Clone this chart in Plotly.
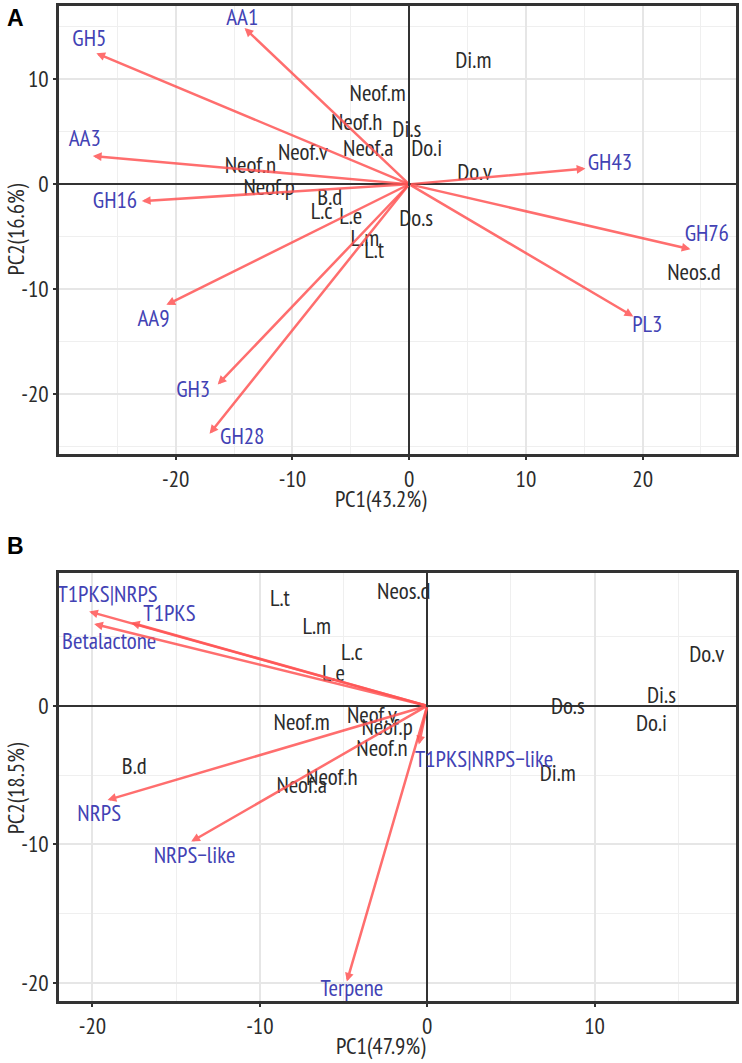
import plotly.graph_objects as go

# ---------------- Panel A data ----------------
vec_names_A = ["AA1", "GH5", "AA3", "GH16", "AA9", "GH3", "GH28", "GH43", "GH76", "PL3"]
vec_x_A = [-14.1, -26.8, -27.1, -22.9, -20.8, -16.4, -17.1, 15.1, 24.1, 19.2]
vec_y_A = [14.9, 12.5, 2.7, -1.6, -11.5, -19.1, -23.8, 1.5, -6.2, -12.6]
vec_lab_x_A = [-14.3, -27.4, -27.8, -25.2, -21.9, -18.5, -14.3, 17.2, 25.5, 20.4]
vec_lab_y_A = [15.7, 13.7, 4.2, -1.7, -13.0, -19.7, -24.2, 1.9, -4.9, -13.5]

smp_names_A = ["Di.m", "Neof.m", "Neof.h", "Di.s", "Neof.a", "Do.i", "Neof.v", "Neof.n",
               "Neof.p", "Do.v", "B.d", "L.c", "L.e", "L.m", "L.t", "Do.s", "Neos.d"]
smp_x_A = [5.5, -2.7, -4.5, -0.2, -3.5, 1.5, -9.1, -13.6, -12.0, 5.6, -6.8, -7.5, -5.0, -3.8, -3.0, 0.6, 24.4]
smp_y_A = [11.6, 8.5, 5.7, 5.1, 3.2, 3.2, 2.9, 1.6, -0.5, 1.0, -1.4, -2.8, -3.2, -5.3, -6.5, -3.4, -8.6]

xticks_A = [-20, -10, 0, 10, 20]
yticks_A = [-20, -10, 0, 10]

# ---------------- Panel B data ----------------
vec_names_B = ["T1PKS|NRPS", "T1PKS", "Betalactone", "NRPS", "NRPS\u2212like", "Terpene", "T1PKS|NRPS\u2212like"]
vec_x_B = [-20.2, -17.7, -19.9, -19.1, -14.1, -4.8, -0.5]
vec_y_B = [6.8, 6.0, 5.9, -6.8, -9.8, -19.9, -2.8]
vec_lab_x_B = [-19.1, -15.4, -19.0, -19.6, -13.9, -4.5, 3.4]
vec_lab_y_B = [7.9, 6.5, 4.5, -7.9, -10.9, -20.5, -4.0]

smp_names_B = ["L.t", "L.m", "L.c", "L.e", "Neos.d", "Do.v", "Di.s", "Do.s", "Do.i", "Di.m",
               "Neof.m", "Neof.v", "Neof.p", "Neof.n", "Neof.h", "Neof.a", "B.d"]
smp_x_B = [-8.8, -6.6, -4.5, -5.6, -1.4, 16.7, 14.0, 8.4, 13.4, 7.8, -7.5, -3.3, -2.4, -2.7, -5.7, -7.5, -17.5]
smp_y_B = [7.6, 5.6, 3.7, 2.2, 8.1, 3.6, 0.65, -0.2, -1.4, -5.0, -1.3, -0.8, -1.7, -3.2, -5.3, -5.9, -4.5]

xticks_B = [-20, -10, 0, 10]
yticks_B = [-20, -10, 0]

# ---------------- styles ----------------
FONT = "PT Sans Narrow, Fira Sans Condensed, Asap Condensed, DejaVu Sans Condensed, sans-serif"
FS = 23
BLUE = "#4242B4"
DARK = "#2b2b2b"
ARROW = "rgba(255,85,85,0.85)"

fig = go.Figure()

def add_panel(xa, ya, vx, vy, lx, ly, vnames, sx, sy, snames):
    fig.add_trace(go.Scatter(x=sx, y=sy, text=snames, mode="text",
                             textfont=dict(family=FONT, size=FS, color=DARK),
                             xaxis=xa, yaxis=ya, hoverinfo="skip", showlegend=False))
    fig.add_trace(go.Scatter(x=lx, y=ly, text=vnames, mode="text",
                             textfont=dict(family=FONT, size=FS, color=BLUE),
                             xaxis=xa, yaxis=ya, hoverinfo="skip", showlegend=False))
    for x, y in zip(vx, vy):
        fig.add_annotation(x=x, y=y, ax=0, ay=0, xref=xa, yref=ya,
                           axref=xa, ayref=ya, text="", showarrow=True,
                           arrowhead=2, arrowsize=0.7, arrowwidth=2.5,
                           arrowcolor=ARROW)

add_panel("x", "y", vec_x_A, vec_y_A, vec_lab_x_A, vec_lab_y_A, vec_names_A,
          smp_x_A, smp_y_A, smp_names_A)
add_panel("x2", "y2", vec_x_B, vec_y_B, vec_lab_x_B, vec_lab_y_B, vec_names_B,
          smp_x_B, smp_y_B, smp_names_B)

def axis_style(rng, tickvals, domain, anchor):
    return dict(range=rng, tickvals=tickvals, ticktext=[str(v) for v in tickvals],
                domain=domain, anchor=anchor,
                showline=True, mirror=True, linecolor="#333333", linewidth=2.5,
                ticks="outside", ticklen=3, tickwidth=2, tickcolor="#333333",
                tickfont=dict(family=FONT, size=FS, color=DARK),
                showgrid=True, gridcolor="#E6E6E6", gridwidth=2,
                minor=dict(dtick=5, showgrid=True, gridcolor="#EFEFEF", gridwidth=1.2),
                zeroline=True, zerolinecolor="#333333", zerolinewidth=1.5)

fig.update_layout(
    width=742, height=1063,
    margin=dict(l=59, r=4, t=3, b=62),
    plot_bgcolor="white", paper_bgcolor="white",
    showlegend=False,
    xaxis=axis_style([-30.0, 28.0], xticks_A, [0, 1], "y"),
    yaxis=axis_style([-25.7, 17.0], yticks_A, [0.550, 1.0], "x"),
    xaxis2=axis_style([-22.0, 18.45], xticks_B, [0, 1], "y2"),
    yaxis2=axis_style([-21.3, 9.57], yticks_B, [0, 0.430], "x2"),
)

titles = [
    dict(text="PC1(43.2%)", x=0.476, y=0.505, textangle=0),
    dict(text="PC2(16.6%)", x=-0.0648, y=0.7756, textangle=-90),
    dict(text="PC1(47.9%)", x=0.476, y=-0.045, textangle=0),
    dict(text="PC2(18.5%)", x=-0.0648, y=0.2139, textangle=-90),
]
for t in titles:
    fig.add_annotation(xref="paper", yref="paper", x=t["x"], y=t["y"], text=t["text"],
                       textangle=t["textangle"], showarrow=False,
                       font=dict(family=FONT, size=FS, color=DARK),
                       xanchor="center", yanchor="middle")

for letter, yy in [("A", 0.988), ("B", 0.457)]:
    fig.add_annotation(xref="paper", yref="paper", x=-0.0648, y=yy, text="<b>%s</b>" % letter,
                       showarrow=False, font=dict(family="Liberation Sans, Arial, sans-serif", size=23, color="black"),
                       xanchor="center", yanchor="middle")

fig.write_html("out.html", config={"displayModeBar": False},
               post_script="document.body.style.margin='0';")
